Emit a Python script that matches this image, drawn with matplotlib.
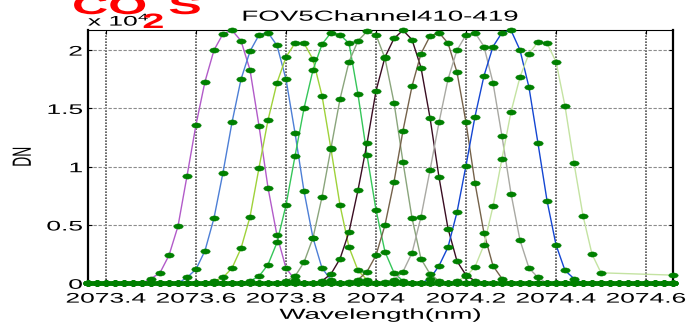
import numpy as np
import matplotlib
matplotlib.use('Agg')
import matplotlib.pyplot as plt
from matplotlib import patheffects
from matplotlib.path import Path
from matplotlib.transforms import Affine2D

plt.rcParams['font.family'] = ['Liberation Sans', 'DejaVu Sans']
plt.rcParams['mathtext.fontset'] = 'custom'
plt.rcParams['mathtext.rm'] = 'Liberation Sans'
plt.rcParams['mathtext.it'] = 'Liberation Sans:italic'
plt.rcParams['mathtext.bf'] = 'Liberation Sans:bold'

# common wavelength sampling of the scan (nm)
wl_first = 2073.36
wl_step = 0.02
n_samples = 66

channels = [410, 411, 412, 413, 414, 415, 416, 417, 418, 419]
line_colors = ['#b25bc9', '#4d7fd6', '#9fd23a', '#35c659', '#8aa57c',
               '#3a0d22', '#75624a', '#a9a9a3', '#1446d2', '#c4e3a2']

# index of the first non-zero sample of each channel
start_idx = [7, 11, 14, 18, 22, 26, 29, 33, 38, 41]

# response around each peak, in units of 1e4 DN
resp410 = [0.04, 0.09, 0.24, 0.49, 0.92, 1.36, 1.73, 2.00, 2.14, 2.17, 2.08, 1.83, 1.35, 0.82, 0.41, 0.13, 0.03]
resp411 = [0.05, 0.12, 0.28, 0.56, 0.95, 1.38, 1.75, 1.99, 2.13, 2.15, 2.04, 1.75, 1.29, 0.79, 0.39, 0.13, 0.03]
resp412 = [0.02, 0.05, 0.13, 0.30, 0.57, 0.99, 1.40, 1.72, 1.94, 2.06, 2.06, 1.92, 1.61, 1.15, 0.67, 0.31, 0.11, 0.03]
resp413 = [0.02, 0.06, 0.16, 0.35, 0.67, 1.09, 1.50, 1.83, 2.05, 2.15, 2.13, 2.06, 1.62, 1.10, 0.63, 0.27, 0.09, 0.02]
resp414 = [0.02, 0.06, 0.18, 0.39, 0.74, 1.16, 1.58, 1.90, 2.08, 2.16, 2.13, 1.93, 1.55, 1.04, 0.56, 0.21, 0.08, 0.02]
resp415 = [0.02, 0.08, 0.21, 0.44, 0.80, 1.20, 1.65, 1.94, 2.10, 2.17, 2.09, 1.85, 1.42, 0.91, 0.47, 0.19, 0.07, 0.02]
resp416 = [0.01, 0.03, 0.10, 0.24, 0.50, 0.87, 1.31, 1.69, 1.97, 2.12, 2.15, 2.06, 1.81, 1.38, 0.86, 0.43, 0.15, 0.04]
resp417 = [0.01, 0.03, 0.10, 0.26, 0.57, 0.97, 1.38, 1.75, 2.00, 2.13, 2.15, 2.03, 1.72, 1.26, 0.77, 0.37, 0.13, 0.05]
resp418 = [0.04, 0.15, 0.31, 0.61, 1.01, 1.43, 1.78, 2.03, 2.15, 2.17, 2.00, 1.68, 1.20, 0.71, 0.33, 0.11, 0.04]
resp419 = [0.02, 0.06, 0.14, 0.33, 0.66, 1.07, 1.47, 1.77, 1.97, 2.07, 2.06, 1.90, 1.52, 1.03, 0.58, 0.25, 0.09]
responses = [resp410, resp411, resp412, resp413, resp414,
             resp415, resp416, resp417, resp418, resp419]

# channel 419 has no samples after its peak except one at the scan end
end419 = (2074.66, 0.07)

xtick_vals = [2073.4, 2073.6, 2073.8, 2074.0, 2074.2, 2074.4, 2074.6]
xtick_labels = ['2073.4', '2073.6', '2073.8', '2074', '2074.2', '2074.4', '2074.6']
ytick_vals = [0, 0.5, 1, 1.5, 2]
ytick_labels = ['0', '0.5', '1', '1.5', '2']

SCALE = 1e4
STRETCH = 1.9


class Widen(patheffects.AbstractPathEffect):
    """Draw text wider than its font, keeping one edge (or the centre) fixed."""

    def __init__(self, sx=STRETCH, anchor='center'):
        super().__init__()
        self.sx = sx
        self.anchor = anchor

    def draw_path(self, renderer, gc, tpath, affine, rgbFace=None):
        box = affine.transform_path(tpath).get_extents()
        if self.anchor == 'left':
            x0 = box.x0
        elif self.anchor == 'right':
            x0 = box.x1
        else:
            x0 = 0.5 * (box.x0 + box.x1)
        extra = Affine2D().translate(-x0, 0).scale(self.sx, 1).translate(x0, 0)
        renderer.draw_path(gc, tpath, affine + extra, rgbFace)


wl = np.round(wl_first + wl_step * np.arange(n_samples), 2)

series = []
for ch, s, core in zip(channels, start_idx, responses):
    y = np.zeros(n_samples)
    y[s:s + len(core)] = core
    x = wl
    if ch == 419:
        x = np.append(wl[:s + len(core)], end419[0])
        y = np.append(y[:s + len(core)], end419[1])
    series.append((x, y * SCALE))

fig = plt.figure(figsize=(6.9, 3.24), dpi=100)
ax = fig.add_axes([88 / 690, 1 - 283.3 / 324, 585 / 690, 253 / 324])

for (x, y), c in zip(series, line_colors):
    ax.plot(x, y, color=c, lw=1.0, zorder=2)

dot = Path.unit_circle().transformed(Affine2D().scale(1.0, 0.55))
for x, y in series:
    ax.plot(x, y, ls='none', marker=dot, ms=6.8, mfc='#008000', mec='#008000',
            mew=0.3, zorder=3, clip_on=False)

ax.set_xlim(wl_first, wl[-1])
ax.set_ylim(0, max(max(r) for r in responses) * SCALE)

ax.set_xticks(xtick_vals)
ax.set_xticklabels(xtick_labels)
ax.set_yticks([v * SCALE for v in ytick_vals])
ax.set_yticklabels(ytick_labels)
ax.tick_params(direction='in', top=True, right=True, length=3, width=0.8,
               labelsize=10, colors='black')
ax.tick_params(axis='x', pad=6)
ax.tick_params(axis='y', pad=4)

ax.set_axisbelow(True)
ax.xaxis.grid(True, color='#505050', ls=(0, (1, 0.8)), lw=1.2)
ax.yaxis.grid(True, color='#8c8c8c', ls=(0, (3, 1.5)), lw=0.8)

for side in ['left', 'right']:
    ax.spines[side].set_linewidth(1.6)
for side in ['top', 'bottom']:
    ax.spines[side].set_linewidth(0.8)

for lab in ax.get_xticklabels():
    lab.set_path_effects([Widen()])
for lab in ax.get_yticklabels():
    lab.set_path_effects([Widen(anchor='right')])

ax.set_title('FOV5Channel410-419', fontsize=10.5, pad=6.9,
             path_effects=[Widen()])
ax.set_xlabel('Wavelength(nm)', fontsize=10.5, path_effects=[Widen()])
ax.xaxis.set_label_coords(0.5, -0.097)
ax.set_ylabel('DN', fontsize=10, path_effects=[Widen()])
ax.yaxis.set_label_coords(-0.1, 0.5)

fig.text(88 / 690, 1 - 25.7 / 324, r'x 10$^4$', fontsize=10, va='baseline',
         path_effects=[Widen(anchor='left')])

# slide heading above the plot
fig.text(73 / 690, 1 - 14 / 324, 'CO', color='red', weight='bold', fontsize=19,
         va='baseline', path_effects=[Widen(anchor='left')])
fig.text(143 / 690, 1 - 28 / 324, '2', color='red', weight='bold', fontsize=15,
         va='baseline', path_effects=[Widen(anchor='left')])
fig.text(169 / 690, 1 - 14 / 324, 'S', color='red', weight='bold', fontsize=19,
         va='baseline', path_effects=[Widen(anchor='left')])

fig.savefig('out.png', dpi=100)
